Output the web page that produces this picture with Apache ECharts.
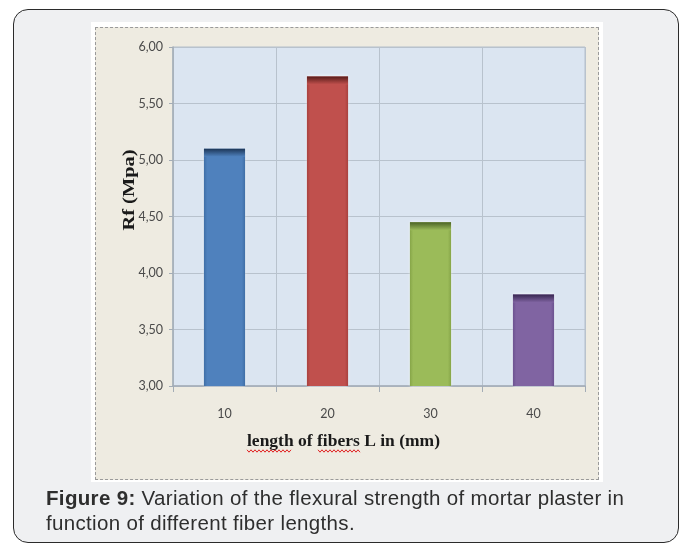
<!DOCTYPE html>
<html>
<head>
<meta charset="utf-8">
<script src="https://cdn.jsdelivr.net/npm/echarts@6/dist/echarts.min.js"></script>
<style>
  html, body { margin: 0; padding: 0; background: #ffffff; }
  body { width: 685px; height: 545px; position: relative; overflow: hidden; }
  #card { position: absolute; left: 13px; top: 9px; width: 664px; height: 532px;
    border: 1.5px solid #2b2b2b; border-radius: 15px; background: #eff0f2; }
  #frame { position: absolute; left: 91px; top: 22px; width: 512px; height: 460px; background: #ffffff; }
  #inner { position: absolute; left: 95px; top: 27px; width: 502px; height: 451px;
    background: #eeebe1; border: 1px dashed #9a9a9a; }
  #chart { position: absolute; left: 0; top: 0; width: 685px; height: 545px; }
  #caption { position: absolute; left: 46px; top: 485px; width: 630px;
    font-family: "Liberation Sans", Arial, sans-serif; font-size: 20.5px; line-height: 25px;
    color: #2e2e2e; letter-spacing: 0.33px; white-space: nowrap; }
</style>
</head>
<body>
<div id="card"></div>
<div id="frame"></div>
<div id="inner"></div>
<div id="chart"></div>
<div id="caption"><b>Figure 9:</b> Variation of the flexural strength of mortar plaster in<br>function of different fiber lengths.</div>
<script>
const categories = ['10', '20', '30', '40'];
const values = [5.10, 5.74, 4.45, 3.81];
const barColors = ['#4f81bd', '#c0504d', '#9bbb59', '#8064a2'];
const edgeColors = ['#3f6ea6', '#a8413e', '#86a548', '#6c5290'];
const capColors = ['#1c3556', '#561b19', '#4a6225', '#372650'];
const yMin = 3, yMax = 6, yStep = 0.5;

const chart = echarts.init(document.getElementById('chart'), null, { renderer: 'canvas' });

function wavy(x0, x1, y) {
  const pts = [];
  let up = true;
  for (let x = x0; x <= x1; x += 2) { pts.push([x, up ? y - 1.2 : y + 1.2]); up = !up; }
  return pts;
}

const option = {
  backgroundColor: 'transparent',
  animation: false,
  grid: { left: 173, top: 47, right: 100, bottom: 159, show: true,
    backgroundColor: '#dbe5f1', borderColor: '#b4bfcb', borderWidth: 1 },
  xAxis: {
    type: 'category', data: categories,
    axisLine: { lineStyle: { color: '#a3acb6', width: 1.5 } },
    axisTick: { show: true, length: 6, lineStyle: { color: '#a3acb6' } },
    axisLabel: { margin: 21, fontFamily: 'Lato, "Open Sans", sans-serif', fontSize: 12.5, color: '#4a4a4a' },
    splitLine: { show: true, lineStyle: { color: '#b8c2cd', width: 1 } }
  },
  yAxis: {
    type: 'value', min: yMin, max: yMax, interval: yStep,
    axisLine: { show: true, lineStyle: { color: '#a3acb6', width: 1.5 } },
    axisTick: { show: true, length: 4, lineStyle: { color: '#a3acb6' } },
    axisLabel: { margin: 10, fontFamily: 'Lato, "Open Sans", sans-serif', fontSize: 12.5, color: '#4a4a4a',
      formatter: v => v.toFixed(2).replace('.', ',') },
    splitLine: { show: true, lineStyle: { color: '#b8c2cd', width: 1 } }
  },
  series: [
    {
      type: 'bar', barWidth: '40%',
      data: values.map((v, i) => ({
        value: v,
        itemStyle: {
          color: new echarts.graphic.LinearGradient(0, 0, 1, 0, [
            { offset: 0, color: edgeColors[i] },
            { offset: 0.08, color: barColors[i] },
            { offset: 0.92, color: barColors[i] },
            { offset: 1, color: edgeColors[i] }
          ]),
          shadowColor: 'rgba(255,255,255,0.9)', shadowBlur: 3
        }
      }))
    },
    {
      type: 'pictorialBar', barWidth: '40%', symbol: 'rect', symbolSize: [41, 8],
      symbolPosition: 'end', z: 3,
      data: values.map((v, i) => ({
        value: v,
        itemStyle: {
          color: new echarts.graphic.LinearGradient(0, 0, 0, 1, [
            { offset: 0, color: capColors[i] },
            { offset: 1, color: barColors[i] }
          ])
        }
      }))
    }
  ],
  graphic: [
    { type: 'text', left: 247, top: 432, style: { text: 'length of fibers L in (mm)',
      font: 'bold 17.5px "Liberation Serif", "Times New Roman", serif', fill: '#1a1a1a' } },
    { type: 'polyline', shape: { points: wavy(247, 292, 451) }, style: { stroke: '#e02020', lineWidth: 1, fill: null } },
    { type: 'polyline', shape: { points: wavy(318, 360, 451) }, style: { stroke: '#e02020', lineWidth: 1, fill: null } },
    { type: 'text', x: 130, y: 190, rotation: Math.PI / 2, scaleX: 1.2, style: { text: 'Rf (Mpa)',
      font: 'bold 17px "Liberation Serif", "Times New Roman", serif', fill: '#1a1a1a',
      align: 'center', verticalAlign: 'middle' } }
  ]
};
chart.setOption(option);
</script>
</body>
</html>
